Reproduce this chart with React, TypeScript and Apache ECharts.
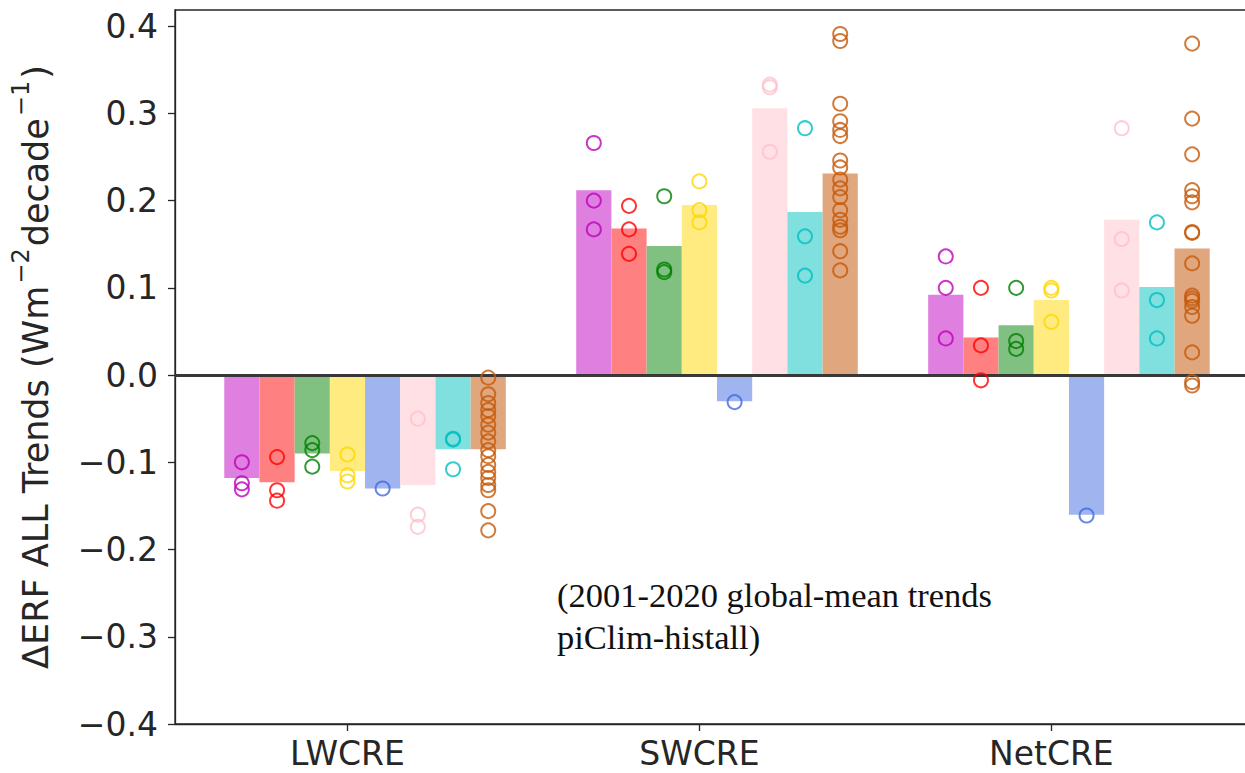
import React, { useEffect, useRef } from "react";
import * as echarts from "echarts";

// ---- Data ----
const categories = ["LWCRE", "SWCRE", "NetCRE"];
const yTickValues = [-0.4, -0.3, -0.2, -0.1, 0, 0.1, 0.2, 0.3, 0.4];

const pointColors = ["#bf00bf", "#ff0000", "#008000", "#ffd700", "#4169e1", "#ffc0cb", "#00bfbf", "#c65a0a"];
const barColors = ["#df7fdf", "#ff8080", "#80c080", "#ffeb80", "#a0b4f0", "#ffe0e5", "#80dfdf", "#e0a67e"];

// bar values (ensemble means) per model: [LWCRE, SWCRE, NetCRE]
const purpleBars = [-0.118, 0.212, 0.092];
const redBars = [-0.123, 0.168, 0.043];
const greenBars = [-0.09, 0.148, 0.057];
const goldBars = [-0.11, 0.195, 0.086];
const blueBars = [-0.13, -0.03, -0.16];
const pinkBars = [-0.126, 0.306, 0.178];
const cyanBars = [-0.085, 0.187, 0.101];
const orangeBars = [-0.085, 0.231, 0.145];

// individual members per model per category
const purplePoints = [
  [-0.1, -0.124, -0.131],
  [0.266, 0.2, 0.167],
  [0.136, 0.1, 0.042],
];
const redPoints = [
  [-0.094, -0.132, -0.144],
  [0.194, 0.167, 0.139],
  [0.1, 0.034, -0.006],
];
const greenPoints = [
  [-0.078, -0.086, -0.105],
  [0.205, 0.121, 0.118],
  [0.1, 0.039, 0.03],
];
const goldPoints = [
  [-0.091, -0.115, -0.122],
  [0.222, 0.189, 0.175],
  [0.1, 0.097, 0.061],
];
const bluePoints = [[-0.13], [-0.031], [-0.161]];
const pinkPoints = [
  [-0.05, -0.16, -0.174],
  [0.333, 0.33, 0.256],
  [0.283, 0.156, 0.097],
];
const cyanPoints = [
  [-0.073, -0.074, -0.108],
  [0.283, 0.159, 0.114],
  [0.175, 0.086, 0.042],
];
const orangePoints = [
  [-0.003, -0.022, -0.032, -0.04, -0.047, -0.057, -0.066, -0.076, -0.086, -0.093, -0.103, -0.111, -0.118, -0.126, -0.132, -0.156, -0.178],
  [0.391, 0.383, 0.311, 0.291, 0.281, 0.274, 0.246, 0.238, 0.224, 0.214, 0.204, 0.189, 0.178, 0.17, 0.166, 0.142, 0.12],
  [0.38, 0.294, 0.253, 0.212, 0.205, 0.198, 0.164, 0.163, 0.128, 0.091, 0.088, 0.085, 0.078, 0.068, 0.026, -0.008, -0.012],
];

const allBars = [purpleBars, redBars, greenBars, goldBars, blueBars, pinkBars, cyanBars, orangeBars];
const allPoints = [purplePoints, redPoints, greenPoints, goldPoints, bluePoints, pinkPoints, cyanPoints, orangePoints];

const BAR_W = 0.1;

const fmtY = (v: number) => {
  const s = (Math.abs(v) < 1e-9 ? 0 : v).toFixed(1);
  return s.replace("-", "\u2212");
};

export default function App() {
  const ref = useRef<HTMLDivElement>(null);
  useEffect(() => {
    if (!ref.current) return;
    const chart = echarts.init(ref.current, null, { renderer: "svg" });

    const barData: any[] = [];
    allBars.forEach((vals, i) => {
      vals.forEach((v, j) => {
        barData.push({ value: [j + (i - 3) * BAR_W, v], modelIndex: i });
      });
    });

    const scatterSeries = allPoints.map((cats, i) => ({
      type: "scatter",
      name: "model" + i,
      z: 4,
      symbol: "circle",
      symbolSize: 14,
      itemStyle: { color: "rgba(0,0,0,0)", borderColor: pointColors[i], borderWidth: 2 },
      data: cats.flatMap((pts, j) => pts.map((p) => [j + (i - 3) * BAR_W, p])),
      silent: true,
    }));

    const axisColor = "#262626";

    chart.setOption({
      animation: false,
      grid: {
        left: 175,
        top: 10,
        width: 1084,
        height: 714,
        show: true,
        borderColor: axisColor,
        borderWidth: 1.3,
        backgroundColor: "transparent",
      },
      xAxis: {
        type: "value",
        min: -0.49,
        max: 2.59,
        splitLine: { show: false },
        axisLine: { onZero: false, lineStyle: { color: axisColor, width: 1.3 } },
        axisTick: { show: true, length: 7, customValues: [0, 1, 2], lineStyle: { color: axisColor, width: 1.3 } },
        axisLabel: {
          customValues: [0, 1, 2],
          formatter: (v: number) => categories[Math.round(v)] ?? "",
          fontFamily: "DejaVu Sans",
          fontSize: 33,
          color: axisColor,
          margin: 13,
        },
      },
      yAxis: {
        type: "value",
        min: -0.4,
        max: 0.4185,
        splitLine: { show: false },
        axisLine: { show: true, onZero: false, lineStyle: { color: axisColor, width: 1.3 } },
        axisTick: { show: true, length: 7, customValues: yTickValues, lineStyle: { color: axisColor, width: 1.3 } },
        axisLabel: {
          customValues: yTickValues,
          formatter: (v: number) => fmtY(v),
          fontFamily: "DejaVu Sans",
          fontSize: 33,
          color: axisColor,
          margin: 17,
        },
        name: "{n|\u0394ERF ALL Trends (Wm}{s|\u22122}{n|decade}{s|\u22121}{n|)}",
        nameLocation: "middle",
        nameGap: 122,
        nameRotate: 90,
        nameTextStyle: {
          fontFamily: "DejaVu Sans",
          color: axisColor,
          rich: {
            n: { fontFamily: "DejaVu Sans", fontSize: 35, color: axisColor, lineHeight: 44, verticalAlign: "bottom" },
            s: { fontFamily: "DejaVu Sans", fontSize: 24, color: axisColor, lineHeight: 44, verticalAlign: "top", padding: [0, 2, 0, 2] },
          },
        },
      },
      series: [
        {
          type: "custom",
          name: "bars",
          z: 2,
          silent: true,
          renderItem: (params: any, api: any) => {
            const x = api.value(0);
            const v = api.value(1);
            const p0 = api.coord([x - BAR_W / 2, 0]);
            const p1 = api.coord([x + BAR_W / 2, v]);
            const idx = barData[params.dataIndex].modelIndex;
            return {
              type: "rect",
              shape: {
                x: Math.min(p0[0], p1[0]),
                y: Math.min(p0[1], p1[1]),
                width: Math.abs(p1[0] - p0[0]),
                height: Math.abs(p1[1] - p0[1]),
              },
              style: { fill: barColors[idx] },
            };
          },
          encode: { x: 0, y: 1 },
          data: barData,
          markLine: {
            silent: true,
            symbol: ["none", "none"],
            label: { show: false },
            lineStyle: { color: "#383838", width: 3, type: "solid" },
            data: [{ yAxis: 0 }],
            z: 3,
          },
        },
        ...scatterSeries,
      ],
      graphic: [
        {
          type: "text",
          left: 557,
          top: 574,
          style: {
            text: "(2001-2020 global-mean trends\npiClim-histall)",
            font: "34.5px 'Liberation Serif'",
            fill: "#111",
            lineHeight: 42,
          },
        },
      ],
    });
    return () => chart.dispose();
  }, []);

  return (
    <div
      ref={ref}
      style={{ position: "fixed", left: 0, top: 0, width: 1262, height: 773, background: "#fff" }}
    />
  );
}
